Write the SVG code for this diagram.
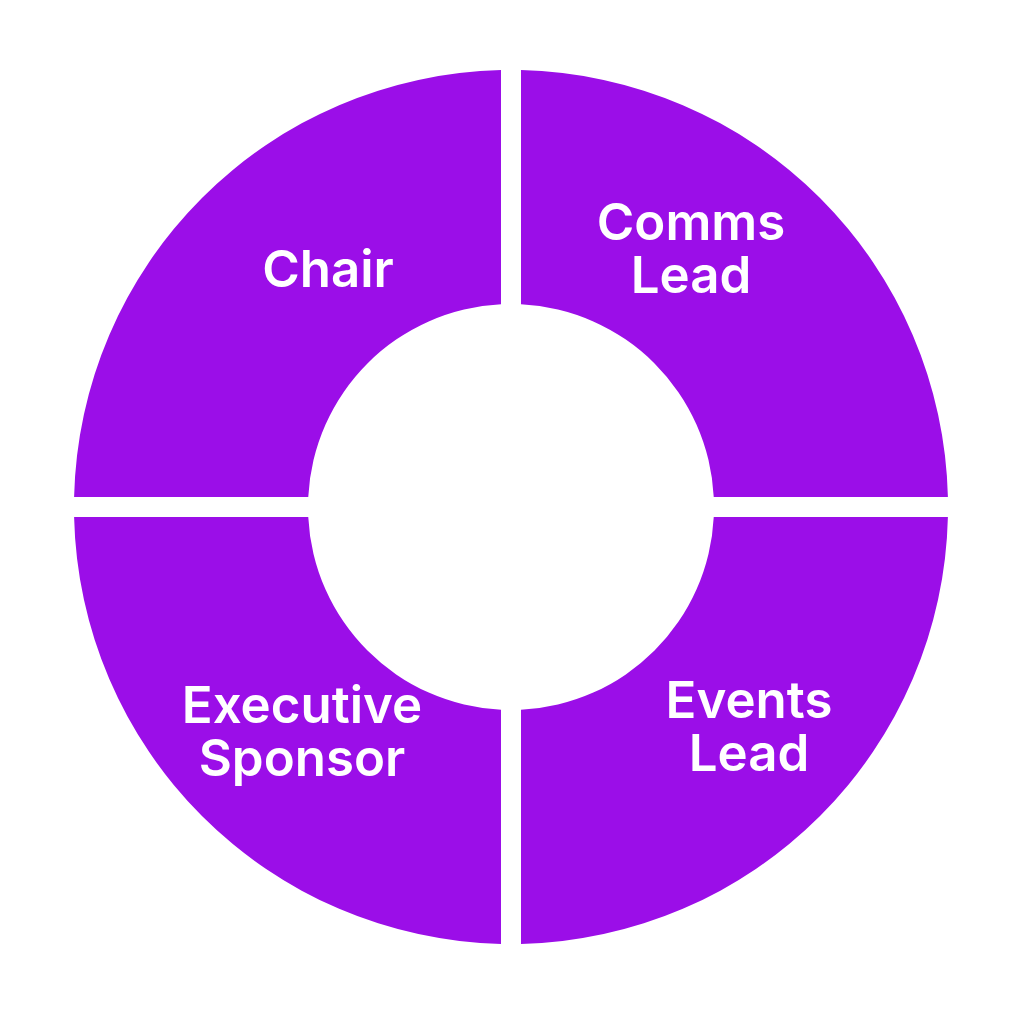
<svg xmlns="http://www.w3.org/2000/svg" width="1024" height="1024" viewBox="0 0 1024 1024">
<style>
.seg{fill:#9B0EE8}
.lbl{fill:#fff;font-family:Inter,"Liberation Sans",sans-serif;font-weight:600;font-size:51px;text-anchor:middle}
</style>
<rect width="1024" height="1024" fill="#fff"/>
<g id="chair"><path class="seg" d="M501,70.1 L501,304.25 A203 203 0 0 0 308.25,497 L74.1,497 A437 437 0 0 1 501,70.1 Z"/><text class="lbl" x="328" y="287">Chair</text></g>
<g id="comms"><path class="seg" d="M521,70.1 A437 437 0 0 1 947.9,497 L713.75,497 A203 203 0 0 0 521,304.25 Z"/><text class="lbl" x="691" y="240">Comms</text><text class="lbl" x="691" y="293">Lead</text></g>
<g id="events"><path class="seg" d="M947.9,517 A437 437 0 0 1 521,943.9 L521,709.75 A203 203 0 0 0 713.75,517 Z"/><text class="lbl" x="749" y="718">Events</text><text class="lbl" x="749" y="771">Lead</text></g>
<g id="exec"><path class="seg" d="M501,943.9 A437 437 0 0 1 74.1,517 L308.25,517 A203 203 0 0 0 501,709.75 Z"/><text class="lbl" x="302" y="723">Executive</text><text class="lbl" x="302" y="776">Sponsor</text></g>
<g id="connectors"/>
</svg>
